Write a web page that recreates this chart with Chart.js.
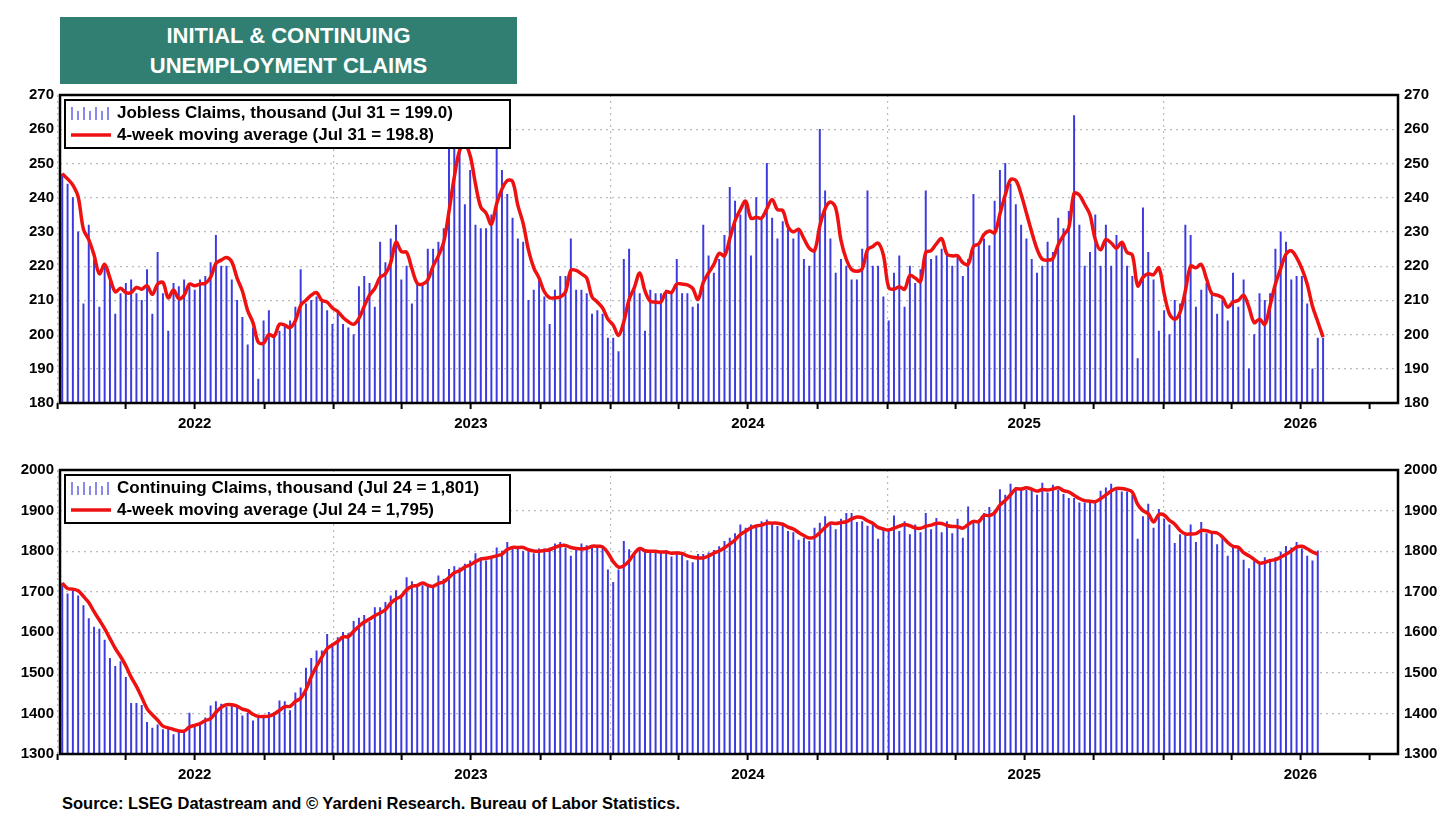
<!DOCTYPE html>
<html><head><meta charset="utf-8">
<script src="https://cdn.jsdelivr.net/npm/chart.js@4.4.1/dist/chart.umd.min.js"></script>
<style>
body{margin:0;background:#fff;width:1456px;height:819px;overflow:hidden;font-family:"Liberation Sans",Arial,sans-serif;}
#title{position:absolute;left:60px;top:17px;width:457px;height:67px;background:#317f72;color:#fff;font-weight:bold;font-size:22px;text-align:center;line-height:30px;padding-top:4px;box-sizing:border-box;}
#src{position:absolute;left:62px;top:794px;font-weight:bold;font-size:16.5px;color:#000;}
</style></head><body>
<div id="title">INITIAL &amp; CONTINUING<br>UNEMPLOYMENT CLAIMS</div>
<div style="position:absolute;left:0;top:80px;width:1456px;height:350px"><canvas id="c1"></canvas></div>
<div style="position:absolute;left:0;top:455px;width:1456px;height:325px"><canvas id="c2"></canvas></div>
<div id="src">Source: LSEG Datastream and © Yardeni Research. Bureau of Labor Statistics.</div>
<script>
// Weekly data, first week ending Jan 7 2022
const firstWeek = "2022-01-07";
const yearLabels = ["2022","2023","2024","2025","2026"];
const initialClaims = [
247,244,240,230,209,232,222,208,220,216,206,212,215,216,212,210,219,206,224,212,201,215,214,216,214,213,216,217,221,229,220,220,216,210,205,197,202,187,204,207,200,201,203,204,208,219,209,210,211,210,207,203,207,203,202,200,214,217,215,208,227,221,228,232,216,
220,209,215,215,225,225,227,231,261,265,258,238,248,232,231,231,235,256,248,241,234,228,227,210,213,216,211,203,213,217,217,228,213,213,212,206,207,206,199,199,195,222,225,213,212,201,213,212,212,213,212,222,212,212,208,209,232,223,218,222,229,243,239,
235,239,223,240,234,250,234,228,233,231,228,231,222,220,225,260,242,228,218,222,220,216,216,225,242,220,220,211,204,218,223,208,220,215,219,242,222,223,225,224,220,223,217,222,241,226,228,226,239,248,250,244,238,232,228,222,218,220,227,224,234,231,236,
264,232,220,224,235,220,232,220,229,227,220,217,193,237,224,216,201,207,200,210,209,232,229,208,213,215,212,206,210,204,218,208,216,190,200,212,210,212,225,230,227,216,217,217,209,190,199,199];
const continuingClaims = [
1721,1695,1703,1690,1666,1634,1613,1608,1581,1536,1516,1528,1489,1425,1425,1420,1378,1364,1372,1360,1362,1348,1358,1358,1401,1366,1374,1389,1419,1429,1423,1415,1419,1415,1394,1400,1382,1394,1394,1403,1403,1431,1429,1407,1451,1463,1512,1536,1554,1554,1595,1573,1587,1600,1597,1627,1635,1642,1626,1661,1661,1674,1690,1703,1690,
1735,1725,1711,1715,1712,1715,1739,1731,1755,1762,1759,1768,1776,1794,1784,1776,1786,1808,1800,1822,1806,1808,1800,1800,1794,1806,1806,1808,1818,1822,1808,1788,1808,1818,1814,1808,1808,1812,1754,1723,1754,1824,1804,1796,1802,1802,1798,1796,1796,1802,1786,1798,1792,1777,1772,1792,1792,1796,1802,1811,1824,1832,1843,
1865,1857,1865,1861,1873,1877,1865,1861,1862,1849,1846,1827,1832,1824,1857,1869,1885,1865,1853,1879,1893,1893,1871,1873,1862,1869,1830,1857,1853,1887,1849,1873,1841,1865,1846,1893,1853,1881,1846,1873,1843,1879,1832,1909,1873,1877,1893,1908,1901,1952,1938,1965,1957,1952,1950,1952,1938,1968,1944,1963,1950,1940,1930,
1930,1919,1919,1925,1925,1948,1956,1965,1950,1946,1946,1938,1830,1885,1916,1857,1903,1879,1865,1819,1841,1845,1865,1822,1871,1843,1849,1816,1832,1788,1811,1808,1778,1757,1776,1772,1784,1776,1784,1798,1812,1808,1822,1806,1788,1776,1801];

const DAY = 86400000, T0 = Date.UTC(2022,0,1);
const dayOf = (y,m,d)=> (Date.UTC(y,m,d)-T0)/DAY;
const d0 = (Date.parse(firstWeek)-T0)/DAY;
function pts(arr){return arr.map((v,i)=>({x:d0+7*i,y:v}));}
function ma4(arr){return arr.map((v,i)=>{const s=arr.slice(Math.max(0,i-3),i+1);return {x:d0+7*i,y:s.reduce((a,b)=>a+b,0)/s.length};});}
const qTicks=[]; for(let y=2022;y<=2026;y++){for(const m of [0,3,6,9]) qTicks.push({v:dayOf(y,m,1),y,m});}
const XMIN=3, XMAX=1771;
const FONT="'Liberation Sans', Arial, sans-serif";

const framePlugin={id:'frame',afterDatasetsDraw(c,a,o){const {ctx,chartArea:ca}=c;ctx.save();
  const L=o.legend; ctx.fillStyle='#fff';ctx.strokeStyle='#000';ctx.lineWidth=2;
  const lx=ca.left+5,ly=ca.top+5,lw=445,lh=48;ctx.fillRect(lx,ly,lw,lh);ctx.strokeRect(lx,ly,lw,lh);
  ctx.fillStyle='#000';ctx.font="bold 17px "+FONT;ctx.textBaseline='middle';
  ctx.fillText(L[0],lx+52,ly+13);ctx.fillText(L[1],lx+52,ly+35);
  ctx.strokeStyle='#3a3ae0';ctx.lineWidth=1.2;
  for(let k=0;k<7;k++){const h=(k%2?9:13);ctx.beginPath();ctx.moveTo(lx+7+k*6,ly+20);ctx.lineTo(lx+7+k*6,ly+20-h);ctx.stroke();}
  ctx.strokeStyle='#ee1111';ctx.lineWidth=3.5;ctx.beginPath();ctx.moveTo(lx+6,ly+35);ctx.lineTo(lx+46,ly+35);ctx.stroke();
  ctx.strokeStyle='#000';ctx.lineWidth=2.5;ctx.strokeRect(ca.left,ca.top,ca.right-ca.left,ca.bottom-ca.top);
  ctx.restore();}};

function qOf(v){return qTicks.find(q=>Math.abs(q.v-v)<0.01);}
function make(id,bars,ymin,ymax,step,legend,xh){
  const yAxis=(pos)=>({type:'linear',position:pos,min:ymin,max:ymax,
    afterFit(s){s.width=pos==='left'?60:58;},
    ticks:{stepSize:step,color:'#000',font:{family:FONT,weight:'bold',size:15},padding:6,callback:v=>String(v)},
    grid:{display:pos==='left',color:'#bbb',lineWidth:1.2,drawTicks:false},border:{display:false,dash:[2,4]}});
  new Chart(document.getElementById(id),{
    data:{datasets:[
      {type:'line',data:ma4(bars),borderColor:'#ee1111',borderWidth:3.5,pointRadius:0,tension:0.35,order:0},
      {type:'bar',data:pts(bars),backgroundColor:'#3a3ae0',barThickness:1.3,order:1}]},
    options:{responsive:true,maintainAspectRatio:false,animation:false,
      layout:{padding:{top:8,left:0,right:0,bottom:0}},
      plugins:{legend:{display:false},tooltip:{enabled:false},frame:{legend}},
      scales:{
        x:{type:'linear',min:XMIN,max:XMAX,offset:false,bounds:'ticks',afterFit(s){s.height=xh;},
          afterBuildTicks(s){s.ticks=qTicks.map(t=>({value:t.v}));},
          ticks:{autoSkip:false,maxRotation:0,padding:6,color:'#000',font:{family:FONT,weight:'bold',size:15},
            callback(v){const t=qOf(v);return t&&t.m===6?String(t.y):'';}},
          grid:{offset:false,color(c){if(!c.tick)return 'rgba(0,0,0,0)';const t=qOf(c.tick.value);return t&&t.m===0?'#bbb':'rgba(0,0,0,0)';},
            lineWidth:1.2,tickColor:'#000',tickLength:6,tickWidth:2,tickBorderDash:[]},
          border:{display:false,dash:[2,4]}},
        y:yAxis('left'),y2:yAxis('right')}},
    plugins:[framePlugin]});
}
make('c1',initialClaims,180,270,10,["Jobless Claims, thousand (Jul 31 = 199.0)","4-week moving average (Jul 31 = 198.8)"],27);
make('c2',continuingClaims,1300,2000,100,["Continuing Claims, thousand (Jul 24 = 1,801)","4-week moving average (Jul 24 = 1,795)"],26);
</script></body></html>
